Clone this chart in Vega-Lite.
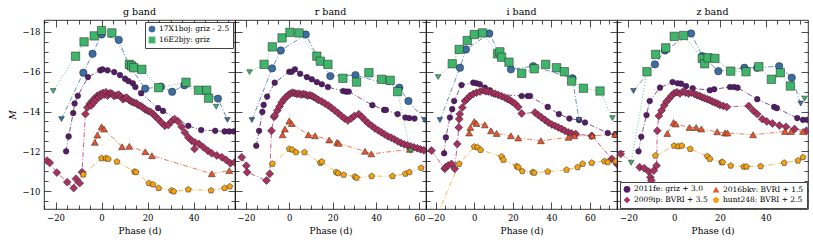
{
"$schema": "https://vega.github.io/schema/vega-lite/v6.json",
"padding": {"left": 7, "top": 6, "right": 3, "bottom": 3},
"spacing": 0,
"bounds": "flush",
"resolve": {"scale": {"color": "independent", "shape": "independent", "size": "independent", "stroke": "independent", "fill": "independent", "x": "independent", "y": "independent"}},
"datasets": {
"names": [
{"s":"17X1boj","n":"17X1boj: griz - 2.5"},{"s":"16E2bjy","n":"16E2bjy: griz"},{"s":"2011fe","n":"2011fe: griz + 3.0"},{"s":"2009ip","n":"2009ip: BVRI + 3.5"},{"s":"2016bkv","n":"2016bkv: BVRI + 1.5"},{"s":"hunt248","n":"hunt248: BVRI + 2.5"}
],
"g": [
{"s":"17X1boj","x":-17.4,"y":-13.62,"l":1},{"s":"17X1boj","x":-7.9,"y":-15.95},{"s":"17X1boj","x":-3.9,"y":-16.9},{"s":"17X1boj","x":0,"y":-17.87},{"s":"17X1boj","x":7.5,"y":-17.6},{"s":"17X1boj","x":12,"y":-16.3},{"s":"17X1boj","x":19,"y":-15.15},{"s":"17X1boj","x":25.8,"y":-15.25},{"s":"17X1boj","x":30.7,"y":-14.99},{"s":"17X1boj","x":36,"y":-15.32},{"s":"17X1boj","x":50.6,"y":-14.65},{"s":"17X1boj","x":54.7,"y":-13.58,"l":1},
{"s":"16E2bjy","x":-21,"y":-15.03,"l":1},{"s":"16E2bjy","x":-11.3,"y":-16.78},{"s":"16E2bjy","x":-7.6,"y":-17.5},{"s":"16E2bjy","x":-3.2,"y":-17.8},{"s":"16E2bjy","x":0,"y":-18.07},{"s":"16E2bjy","x":4.5,"y":-17.95},{"s":"16E2bjy","x":12.1,"y":-16.37},{"s":"16E2bjy","x":13.1,"y":-16.29},{"s":"16E2bjy","x":14,"y":-16.2},{"s":"16E2bjy","x":17.5,"y":-16.12},{"s":"16E2bjy","x":24.8,"y":-15.2},{"s":"16E2bjy","x":36.7,"y":-15.47},{"s":"16E2bjy","x":42.1,"y":-15.07},{"s":"16E2bjy","x":45.7,"y":-15.07},{"s":"16E2bjy","x":46.5,"y":-14.67},{"s":"16E2bjy","x":49.8,"y":-14.24,"l":1},
{"s":"2011fe","x":-15.4,"y":-12.0},{"s":"2011fe","x":-14.3,"y":-12.75},{"s":"2011fe","x":-12.3,"y":-13.92},{"s":"2011fe","x":-11.7,"y":-14.4},{"s":"2011fe","x":-10.3,"y":-14.79},{"s":"2011fe","x":-5.9,"y":-15.73},{"s":"2011fe","x":-0.6,"y":-16.07},{"s":"2011fe","x":0.4,"y":-16.12},{"s":"2011fe","x":2.6,"y":-16.07},{"s":"2011fe","x":5.5,"y":-15.98},{"s":"2011fe","x":8,"y":-15.83},{"s":"2011fe","x":10.2,"y":-15.65},{"s":"2011fe","x":11.7,"y":-15.53},{"s":"2011fe","x":13.6,"y":-15.42},{"s":"2011fe","x":14.7,"y":-15.23},{"s":"2011fe","x":17.2,"y":-14.92},{"s":"2011fe","x":24.6,"y":-14.17},{"s":"2011fe","x":26.7,"y":-14.03},{"s":"2011fe","x":37.7,"y":-13.28},{"s":"2011fe","x":43.3,"y":-13.07},{"s":"2011fe","x":49.4,"y":-13.03},{"s":"2011fe","x":53.5,"y":-13.0},{"s":"2011fe","x":55.5,"y":-13.0},{"s":"2011fe","x":57.5,"y":-13.0},
{"s":"2009ip","x":-23.7,"y":-11.53},{"s":"2009ip","x":-22.5,"y":-11.42},{"s":"2009ip","x":-19.4,"y":-10.93},{"s":"2009ip","x":-14.9,"y":-10.45},{"s":"2009ip","x":-12.1,"y":-10.15},{"s":"2009ip","x":-11.1,"y":-10.62},{"s":"2009ip","x":-9.5,"y":-10.4},{"s":"2009ip","x":-8.5,"y":-10.95},{"s":"2009ip","x":-7.0,"y":-13.87},{"s":"2009ip","x":-6.2,"y":-14.2},{"s":"2009ip","x":-5,"y":-14.4},{"s":"2009ip","x":-4.5,"y":-14.3},{"s":"2009ip","x":-3.9,"y":-14.54},{"s":"2009ip","x":-3.4,"y":-14.45},{"s":"2009ip","x":-2.9,"y":-14.67},{"s":"2009ip","x":-2.3,"y":-14.6},{"s":"2009ip","x":-1.8,"y":-14.79},{"s":"2009ip","x":-1.2,"y":-14.72},{"s":"2009ip","x":-0.6,"y":-14.87},{"s":"2009ip","x":0,"y":-14.8},{"s":"2009ip","x":0.6,"y":-14.93},{"s":"2009ip","x":1.2,"y":-14.85},{"s":"2009ip","x":1.9,"y":-14.97},{"s":"2009ip","x":2.6,"y":-14.8},{"s":"2009ip","x":3.3,"y":-14.9},{"s":"2009ip","x":4,"y":-14.92},{"s":"2009ip","x":4.8,"y":-14.87},{"s":"2009ip","x":5.5,"y":-14.78},{"s":"2009ip","x":6.7,"y":-14.82},{"s":"2009ip","x":7.5,"y":-14.85},{"s":"2009ip","x":8.5,"y":-14.74},{"s":"2009ip","x":9.3,"y":-14.62},{"s":"2009ip","x":10.2,"y":-14.67},{"s":"2009ip","x":11,"y":-14.7},{"s":"2009ip","x":12.1,"y":-14.57},{"s":"2009ip","x":13,"y":-14.5},{"s":"2009ip","x":14,"y":-14.45},{"s":"2009ip","x":15,"y":-14.42},{"s":"2009ip","x":15.8,"y":-14.34},{"s":"2009ip","x":17,"y":-14.28},{"s":"2009ip","x":18,"y":-14.2},{"s":"2009ip","x":19,"y":-14.1},{"s":"2009ip","x":20.2,"y":-14.03},{"s":"2009ip","x":21.3,"y":-13.98},{"s":"2009ip","x":22.4,"y":-13.87},{"s":"2009ip","x":23.5,"y":-13.75},{"s":"2009ip","x":24.6,"y":-13.62},{"s":"2009ip","x":26,"y":-13.45},{"s":"2009ip","x":27.5,"y":-13.28},{"s":"2009ip","x":29,"y":-13.32},{"s":"2009ip","x":30.4,"y":-13.5},{"s":"2009ip","x":31.8,"y":-13.62},{"s":"2009ip","x":33.3,"y":-13.5},{"s":"2009ip","x":34.8,"y":-13.23},{"s":"2009ip","x":36.2,"y":-12.95},{"s":"2009ip","x":37.7,"y":-12.7},{"s":"2009ip","x":39.2,"y":-12.53},{"s":"2009ip","x":40.4,"y":-12.12},{"s":"2009ip","x":40.6,"y":-12.45},{"s":"2009ip","x":42.4,"y":-12.37},{"s":"2009ip","x":44.3,"y":-12.2},{"s":"2009ip","x":46.2,"y":-12.03},{"s":"2009ip","x":47.9,"y":-11.9},{"s":"2009ip","x":50.1,"y":-11.79},{"s":"2009ip","x":52.3,"y":-11.7},{"s":"2009ip","x":54.1,"y":-11.57},{"s":"2009ip","x":56,"y":-11.4},{"s":"2009ip","x":57.9,"y":-11.45},{"s":"2009ip","x":61,"y":-11.6},
{"s":"2016bkv","x":-2.9,"y":-12.45},{"s":"2016bkv","x":-1.8,"y":-12.82},{"s":"2016bkv","x":0,"y":-13.23},{"s":"2016bkv","x":1.1,"y":-13.12},{"s":"2016bkv","x":8.9,"y":-12.23},{"s":"2016bkv","x":12.1,"y":-12.25},{"s":"2016bkv","x":19,"y":-11.98},{"s":"2016bkv","x":21.9,"y":-11.78},{"s":"2016bkv","x":47.9,"y":-10.87},{"s":"2016bkv","x":55.5,"y":-11.03},
{"s":"hunt248","x":-7.9,"y":-10.83},{"s":"hunt248","x":0,"y":-11.65},{"s":"hunt248","x":1.9,"y":-11.65},{"s":"hunt248","x":2.9,"y":-11.62},{"s":"hunt248","x":6.7,"y":-11.48},{"s":"hunt248","x":14.3,"y":-10.98},{"s":"hunt248","x":15,"y":-10.95},{"s":"hunt248","x":20.6,"y":-10.4},{"s":"hunt248","x":22.4,"y":-10.33},{"s":"hunt248","x":24.8,"y":-10.15},{"s":"hunt248","x":30.4,"y":-10.03},{"s":"hunt248","x":31.4,"y":-9.98},{"s":"hunt248","x":37.7,"y":-10.08},{"s":"hunt248","x":47.6,"y":-10.03},{"s":"hunt248","x":53.5,"y":-10.15},{"s":"hunt248","x":55.7,"y":-10.23},{"s":"hunt248","x":61,"y":-10.4}
],
"r": [
{"s":"17X1boj","x":-17.2,"y":-13.57,"l":1},{"s":"17X1boj","x":-7.9,"y":-16.17},{"s":"17X1boj","x":-3.9,"y":-17.07},{"s":"17X1boj","x":7.6,"y":-17.87},{"s":"17X1boj","x":12.7,"y":-16.8},{"s":"17X1boj","x":18.9,"y":-15.78},{"s":"17X1boj","x":30.5,"y":-15.83},{"s":"17X1boj","x":50.7,"y":-15.2},{"s":"17X1boj","x":54.9,"y":-14.53},{"s":"17X1boj","x":62.3,"y":-13.57,"l":1},
{"s":"16E2bjy","x":-18.3,"y":-15.98,"l":1},{"s":"16E2bjy","x":-11.6,"y":-16.37},{"s":"16E2bjy","x":-7.8,"y":-17.25},{"s":"16E2bjy","x":-3.3,"y":-17.7},{"s":"16E2bjy","x":0.3,"y":-17.98},{"s":"16E2bjy","x":4.5,"y":-17.95},{"s":"16E2bjy","x":12.7,"y":-16.78},{"s":"16E2bjy","x":14.3,"y":-16.53},{"s":"16E2bjy","x":17.8,"y":-16.37},{"s":"16E2bjy","x":24.7,"y":-15.67},{"s":"16E2bjy","x":31,"y":-15.48},{"s":"16E2bjy","x":36.7,"y":-15.95},{"s":"16E2bjy","x":42.5,"y":-15.62},{"s":"16E2bjy","x":46.5,"y":-15.57},{"s":"16E2bjy","x":49.9,"y":-15.0},{"s":"16E2bjy","x":55.8,"y":-12.03,"l":1},
{"s":"2011fe","x":-15.2,"y":-12.28},{"s":"2011fe","x":-13.9,"y":-13.03},{"s":"2011fe","x":-12.4,"y":-13.98},{"s":"2011fe","x":-11.8,"y":-14.33},{"s":"2011fe","x":-10.2,"y":-14.75},{"s":"2011fe","x":-6.7,"y":-15.45},{"s":"2011fe","x":0,"y":-16.0},{"s":"2011fe","x":1.1,"y":-16.0},{"s":"2011fe","x":2.6,"y":-16.12},{"s":"2011fe","x":5,"y":-15.9},{"s":"2011fe","x":8.1,"y":-15.73},{"s":"2011fe","x":10.4,"y":-15.62},{"s":"2011fe","x":12.7,"y":-15.48},{"s":"2011fe","x":15,"y":-15.37},{"s":"2011fe","x":17.8,"y":-15.23},{"s":"2011fe","x":24.8,"y":-15.03},{"s":"2011fe","x":26.2,"y":-15.0},{"s":"2011fe","x":27.4,"y":-15.0},{"s":"2011fe","x":38.3,"y":-14.32},{"s":"2011fe","x":43.7,"y":-14.08},{"s":"2011fe","x":44.5,"y":-14.08},{"s":"2011fe","x":49.9,"y":-13.87},{"s":"2011fe","x":53.5,"y":-13.7},{"s":"2011fe","x":55.3,"y":-13.67},{"s":"2011fe","x":57.7,"y":-13.65},
{"s":"2009ip","x":-21.9,"y":-11.7},{"s":"2009ip","x":-19.8,"y":-11.28},{"s":"2009ip","x":-19.4,"y":-10.95},{"s":"2009ip","x":-10.5,"y":-10.53},{"s":"2009ip","x":-9,"y":-10.87},{"s":"2009ip","x":-8.2,"y":-13.03},{"s":"2009ip","x":-7,"y":-13.73},{"s":"2009ip","x":-6.7,"y":-13.8},{"s":"2009ip","x":-5.5,"y":-14.05},{"s":"2009ip","x":-4.5,"y":-14.25},{"s":"2009ip","x":-3.5,"y":-14.45},{"s":"2009ip","x":-2.5,"y":-14.6},{"s":"2009ip","x":-1.5,"y":-14.72},{"s":"2009ip","x":-0.5,"y":-14.82},{"s":"2009ip","x":0.5,"y":-14.9},{"s":"2009ip","x":1.5,"y":-14.95},{"s":"2009ip","x":2.5,"y":-14.92},{"s":"2009ip","x":3.5,"y":-14.88},{"s":"2009ip","x":4.5,"y":-14.9},{"s":"2009ip","x":5.5,"y":-14.85},{"s":"2009ip","x":6.5,"y":-14.88},{"s":"2009ip","x":7.5,"y":-14.85},{"s":"2009ip","x":8.5,"y":-14.8},{"s":"2009ip","x":9.5,"y":-14.82},{"s":"2009ip","x":10.5,"y":-14.78},{"s":"2009ip","x":11.5,"y":-14.72},{"s":"2009ip","x":12.5,"y":-14.65},{"s":"2009ip","x":13.5,"y":-14.58},{"s":"2009ip","x":15,"y":-14.5},{"s":"2009ip","x":16.5,"y":-14.4},{"s":"2009ip","x":18,"y":-14.3},{"s":"2009ip","x":19.5,"y":-14.18},{"s":"2009ip","x":21,"y":-14.05},{"s":"2009ip","x":22.5,"y":-13.92},{"s":"2009ip","x":24,"y":-13.78},{"s":"2009ip","x":25.5,"y":-13.65},{"s":"2009ip","x":27,"y":-13.55},{"s":"2009ip","x":28.5,"y":-13.65},{"s":"2009ip","x":30,"y":-13.78},{"s":"2009ip","x":32,"y":-13.87},{"s":"2009ip","x":33.5,"y":-13.72},{"s":"2009ip","x":35,"y":-13.55},{"s":"2009ip","x":36.5,"y":-13.4},{"s":"2009ip","x":38,"y":-13.28},{"s":"2009ip","x":39.5,"y":-13.15},{"s":"2009ip","x":41,"y":-13.05},{"s":"2009ip","x":42.5,"y":-12.95},{"s":"2009ip","x":44,"y":-12.85},{"s":"2009ip","x":45.5,"y":-12.75},{"s":"2009ip","x":47,"y":-12.68},{"s":"2009ip","x":48.5,"y":-12.6},{"s":"2009ip","x":50,"y":-12.5},{"s":"2009ip","x":51.5,"y":-12.42},{"s":"2009ip","x":53,"y":-12.35},{"s":"2009ip","x":54.5,"y":-12.3},{"s":"2009ip","x":56,"y":-12.25},{"s":"2009ip","x":57.5,"y":-12.2},{"s":"2009ip","x":59,"y":-12.15},{"s":"2009ip","x":60.5,"y":-12.1},{"s":"2009ip","x":62,"y":-12.05},{"s":"2009ip","x":64.5,"y":-12.1},
{"s":"2016bkv","x":-3.1,"y":-12.83},{"s":"2016bkv","x":-2,"y":-13.12},{"s":"2016bkv","x":0,"y":-13.53},{"s":"2016bkv","x":1.1,"y":-13.4},{"s":"2016bkv","x":8.8,"y":-12.83},{"s":"2016bkv","x":11.9,"y":-12.78},{"s":"2016bkv","x":18.4,"y":-12.57},{"s":"2016bkv","x":22,"y":-12.45},{"s":"2016bkv","x":22.8,"y":-12.4},{"s":"2016bkv","x":34.9,"y":-12.0},{"s":"2016bkv","x":37.8,"y":-11.87},{"s":"2016bkv","x":55.5,"y":-12.1},
{"s":"hunt248","x":-7.8,"y":-11.37},{"s":"hunt248","x":0,"y":-12.12},{"s":"hunt248","x":1.4,"y":-12.08},{"s":"hunt248","x":3.1,"y":-11.95},{"s":"hunt248","x":7,"y":-11.95},{"s":"hunt248","x":14.3,"y":-11.42},{"s":"hunt248","x":15,"y":-11.48},{"s":"hunt248","x":21.6,"y":-10.95},{"s":"hunt248","x":22.5,"y":-10.9},{"s":"hunt248","x":25.1,"y":-10.82},{"s":"hunt248","x":30.2,"y":-10.73},{"s":"hunt248","x":31,"y":-10.67},{"s":"hunt248","x":38,"y":-10.75},{"s":"hunt248","x":47.6,"y":-10.75},{"s":"hunt248","x":53.5,"y":-10.87},{"s":"hunt248","x":55.3,"y":-10.95},{"s":"hunt248","x":60.8,"y":-11.17}
],
"i": [
{"s":"17X1boj","x":-17.8,"y":-13.57,"l":1},{"s":"17X1boj","x":-7.4,"y":-16.2},{"s":"17X1boj","x":-4.3,"y":-17.12},{"s":"17X1boj","x":7.8,"y":-17.92},{"s":"17X1boj","x":13.8,"y":-16.78},{"s":"17X1boj","x":19,"y":-16.12},{"s":"17X1boj","x":30.6,"y":-16.28},{"s":"17X1boj","x":50.9,"y":-15.67},{"s":"17X1boj","x":54.3,"y":-13.58,"l":1},
{"s":"16E2bjy","x":-18.7,"y":-15.73,"l":1},{"s":"16E2bjy","x":-11.4,"y":-16.4},{"s":"16E2bjy","x":-7.8,"y":-17.12},{"s":"16E2bjy","x":-3.6,"y":-17.57},{"s":"16E2bjy","x":0,"y":-17.87},{"s":"16E2bjy","x":4.3,"y":-17.95},{"s":"16E2bjy","x":12.1,"y":-16.9},{"s":"16E2bjy","x":13.3,"y":-17.0},{"s":"16E2bjy","x":14.2,"y":-16.73},{"s":"16E2bjy","x":18,"y":-16.48},{"s":"16E2bjy","x":24.6,"y":-15.92},{"s":"16E2bjy","x":31.1,"y":-16.15},{"s":"16E2bjy","x":37,"y":-16.37},{"s":"16E2bjy","x":42.7,"y":-16.2},{"s":"16E2bjy","x":46.7,"y":-16.0},{"s":"16E2bjy","x":50.5,"y":-15.53},{"s":"16E2bjy","x":56.6,"y":-15.17},{"s":"16E2bjy","x":65.2,"y":-15.03},{"s":"16E2bjy","x":71.6,"y":-13.67,"l":1},
{"s":"2011fe","x":-15.6,"y":-11.9},{"s":"2011fe","x":-14.7,"y":-12.7},{"s":"2011fe","x":-12.6,"y":-13.7},{"s":"2011fe","x":-11.4,"y":-14.12},{"s":"2011fe","x":-10.4,"y":-14.53},{"s":"2011fe","x":-6.6,"y":-15.33},{"s":"2011fe","x":-0.5,"y":-15.45},{"s":"2011fe","x":1.2,"y":-15.42},{"s":"2011fe","x":2.9,"y":-15.37},{"s":"2011fe","x":5.5,"y":-15.2},{"s":"2011fe","x":8.1,"y":-15.07},{"s":"2011fe","x":10.7,"y":-14.87},{"s":"2011fe","x":24.6,"y":-14.78},{"s":"2011fe","x":27.7,"y":-14.78},{"s":"2011fe","x":28.9,"y":-14.78},{"s":"2011fe","x":38.1,"y":-14.23},{"s":"2011fe","x":43.9,"y":-13.87},{"s":"2011fe","x":49.3,"y":-13.65},{"s":"2011fe","x":54.3,"y":-13.57},{"s":"2011fe","x":57.4,"y":-13.45},{"s":"2011fe","x":69.2,"y":-12.92},{"s":"2011fe","x":73,"y":-12.83},
{"s":"2009ip","x":-22.2,"y":-12.04},{"s":"2009ip","x":-15.3,"y":-11.12},{"s":"2009ip","x":-14.8,"y":-11.2},{"s":"2009ip","x":-13.5,"y":-11.29},{"s":"2009ip","x":-11.8,"y":-11.37},{"s":"2009ip","x":-10.1,"y":-11.12},{"s":"2009ip","x":-8.8,"y":-12.37},{"s":"2009ip","x":-8,"y":-13.2},{"s":"2009ip","x":-7.8,"y":-13.62},{"s":"2009ip","x":-7.5,"y":-13.87},{"s":"2009ip","x":-6.2,"y":-14.2},{"s":"2009ip","x":-4.8,"y":-14.53},{"s":"2009ip","x":-3.5,"y":-14.65},{"s":"2009ip","x":-2.2,"y":-14.78},{"s":"2009ip","x":-0.5,"y":-14.88},{"s":"2009ip","x":1.2,"y":-14.95},{"s":"2009ip","x":3,"y":-15.0},{"s":"2009ip","x":4.7,"y":-15.07},{"s":"2009ip","x":6,"y":-15.02},{"s":"2009ip","x":7.3,"y":-15.0},{"s":"2009ip","x":9,"y":-14.95},{"s":"2009ip","x":10.8,"y":-14.9},{"s":"2009ip","x":12.5,"y":-14.83},{"s":"2009ip","x":14.2,"y":-14.77},{"s":"2009ip","x":15.9,"y":-14.7},{"s":"2009ip","x":17.2,"y":-14.63},{"s":"2009ip","x":18.5,"y":-14.57},{"s":"2009ip","x":19.8,"y":-14.48},{"s":"2009ip","x":21.1,"y":-14.4},{"s":"2009ip","x":22.8,"y":-14.23},{"s":"2009ip","x":24.6,"y":-13.9},{"s":"2009ip","x":31.5,"y":-13.95},{"s":"2009ip","x":33.2,"y":-13.82},{"s":"2009ip","x":34.9,"y":-13.7},{"s":"2009ip","x":36.7,"y":-13.57},{"s":"2009ip","x":38.4,"y":-13.45},{"s":"2009ip","x":40.2,"y":-13.35},{"s":"2009ip","x":41.9,"y":-13.28},{"s":"2009ip","x":43.6,"y":-13.2},{"s":"2009ip","x":45.3,"y":-13.12},{"s":"2009ip","x":47,"y":-13.03},{"s":"2009ip","x":48.8,"y":-12.95},{"s":"2009ip","x":50.5,"y":-12.9},{"s":"2009ip","x":52.6,"y":-12.87},{"s":"2009ip","x":60.9,"y":-12.78},{"s":"2009ip","x":71.3,"y":-11.62},{"s":"2009ip","x":73.9,"y":-11.37},
{"s":"2016bkv","x":-2.6,"y":-12.92},{"s":"2016bkv","x":-2.0,"y":-13.2},{"s":"2016bkv","x":0,"y":-13.5},{"s":"2016bkv","x":1.2,"y":-13.4},{"s":"2016bkv","x":5.5,"y":-13.33},{"s":"2016bkv","x":8.7,"y":-13.03},{"s":"2016bkv","x":11.6,"y":-12.9},{"s":"2016bkv","x":19,"y":-12.78},{"s":"2016bkv","x":22.8,"y":-12.67},{"s":"2016bkv","x":34.6,"y":-12.53},{"s":"2016bkv","x":48.8,"y":-12.7},{"s":"2016bkv","x":51.9,"y":-12.78},{"s":"2016bkv","x":61.2,"y":-12.78},{"s":"2016bkv","x":73,"y":-12.85},
{"s":"hunt248","x":-21,"y":-8.4},{"s":"hunt248","x":-7.8,"y":-11.37},{"s":"hunt248","x":0,"y":-12.23},{"s":"hunt248","x":1.7,"y":-12.2},{"s":"hunt248","x":3.3,"y":-12.07},{"s":"hunt248","x":14.2,"y":-11.73},{"s":"hunt248","x":15.1,"y":-11.57},{"s":"hunt248","x":22,"y":-11.25},{"s":"hunt248","x":22.8,"y":-11.2},{"s":"hunt248","x":24.9,"y":-11.0},{"s":"hunt248","x":30.3,"y":-10.95},{"s":"hunt248","x":31.1,"y":-10.92},{"s":"hunt248","x":38.1,"y":-10.98},{"s":"hunt248","x":47.9,"y":-11.07},{"s":"hunt248","x":53.6,"y":-11.2},{"s":"hunt248","x":56.2,"y":-11.37},{"s":"hunt248","x":60.9,"y":-11.42},{"s":"hunt248","x":67.5,"y":-11.5},{"s":"hunt248","x":69.2,"y":-11.45},{"s":"hunt248","x":73.4,"y":-11.5}
],
"z": [
{"s":"17X1boj","x":-17.8,"y":-15.03,"l":1},{"s":"17X1boj","x":-8.4,"y":-16.37},{"s":"17X1boj","x":-4,"y":-17.07},{"s":"17X1boj","x":7.4,"y":-17.92},{"s":"17X1boj","x":12.3,"y":-16.78},{"s":"17X1boj","x":19.3,"y":-16.03},{"s":"17X1boj","x":30.7,"y":-16.2},{"s":"17X1boj","x":36.3,"y":-16.2},{"s":"17X1boj","x":45.9,"y":-16.28},{"s":"17X1boj","x":51.4,"y":-15.7},{"s":"17X1boj","x":55.3,"y":-14.4,"l":1},
{"s":"16E2bjy","x":-18.8,"y":-11.42,"l":1},{"s":"16E2bjy","x":-11.9,"y":-16.0},{"s":"16E2bjy","x":-8.1,"y":-16.87},{"s":"16E2bjy","x":-3.7,"y":-17.2},{"s":"16E2bjy","x":0,"y":-17.78},{"s":"16E2bjy","x":4.1,"y":-17.82},{"s":"16E2bjy","x":12.3,"y":-16.67},{"s":"16E2bjy","x":13.3,"y":-16.4},{"s":"16E2bjy","x":14.8,"y":-16.7},{"s":"16E2bjy","x":17.8,"y":-16.67},{"s":"16E2bjy","x":24.7,"y":-16.03},{"s":"16E2bjy","x":31.4,"y":-16.0},{"s":"16E2bjy","x":37,"y":-16.25},{"s":"16E2bjy","x":42.5,"y":-15.62},{"s":"16E2bjy","x":46.4,"y":-15.95},{"s":"16E2bjy","x":50.8,"y":-15.28},{"s":"16E2bjy","x":57,"y":-14.65,"l":1},
{"s":"2011fe","x":-15.6,"y":-12.0},{"s":"2011fe","x":-14.4,"y":-12.73},{"s":"2011fe","x":-12.1,"y":-13.82},{"s":"2011fe","x":-10.7,"y":-14.53},{"s":"2011fe","x":-6.2,"y":-15.2},{"s":"2011fe","x":-0.7,"y":-15.48},{"s":"2011fe","x":1.5,"y":-15.42},{"s":"2011fe","x":3,"y":-15.4},{"s":"2011fe","x":5.2,"y":-15.28},{"s":"2011fe","x":8.1,"y":-15.17},{"s":"2011fe","x":15.6,"y":-15.07},{"s":"2011fe","x":17.5,"y":-15.12},{"s":"2011fe","x":24.4,"y":-15.23},{"s":"2011fe","x":26.2,"y":-15.23},{"s":"2011fe","x":27.7,"y":-15.2},{"s":"2011fe","x":36.3,"y":-14.62},{"s":"2011fe","x":43.7,"y":-14.23},{"s":"2011fe","x":44.9,"y":-14.17},{"s":"2011fe","x":53.8,"y":-13.67},{"s":"2011fe","x":56.3,"y":-13.58},{"s":"2011fe","x":58.2,"y":-13.58},
{"s":"2009ip","x":-23.4,"y":-11.87},{"s":"2009ip","x":-15.1,"y":-11.2},{"s":"2009ip","x":-13.1,"y":-11.15},{"s":"2009ip","x":-11.1,"y":-10.98},{"s":"2009ip","x":-10.4,"y":-10.7},{"s":"2009ip","x":-10,"y":-10.53},{"s":"2009ip","x":-8.9,"y":-11.03},{"s":"2009ip","x":-7.7,"y":-11.28},{"s":"2009ip","x":-7.4,"y":-13.03},{"s":"2009ip","x":-6.7,"y":-13.78},{"s":"2009ip","x":-5.5,"y":-14.05},{"s":"2009ip","x":-4.4,"y":-14.3},{"s":"2009ip","x":-3.3,"y":-14.5},{"s":"2009ip","x":-2.2,"y":-14.65},{"s":"2009ip","x":-1.1,"y":-14.8},{"s":"2009ip","x":0,"y":-14.92},{"s":"2009ip","x":1.2,"y":-14.97},{"s":"2009ip","x":2.5,"y":-14.9},{"s":"2009ip","x":3.8,"y":-15.0},{"s":"2009ip","x":5,"y":-14.95},{"s":"2009ip","x":6.3,"y":-14.9},{"s":"2009ip","x":7.6,"y":-14.95},{"s":"2009ip","x":8.9,"y":-14.88},{"s":"2009ip","x":10,"y":-14.82},{"s":"2009ip","x":11.1,"y":-14.78},{"s":"2009ip","x":12.2,"y":-14.72},{"s":"2009ip","x":13.3,"y":-14.67},{"s":"2009ip","x":14.5,"y":-14.62},{"s":"2009ip","x":15.6,"y":-14.57},{"s":"2009ip","x":16.7,"y":-14.5},{"s":"2009ip","x":17.8,"y":-14.45},{"s":"2009ip","x":18.9,"y":-14.4},{"s":"2009ip","x":20,"y":-14.33},{"s":"2009ip","x":21.5,"y":-14.28},{"s":"2009ip","x":23,"y":-14.23},{"s":"2009ip","x":32.6,"y":-14.28},{"s":"2009ip","x":34.5,"y":-14.05},{"s":"2009ip","x":36.3,"y":-13.87},{"s":"2009ip","x":38.5,"y":-13.62},{"s":"2009ip","x":40.5,"y":-13.5},{"s":"2009ip","x":43,"y":-13.4},{"s":"2009ip","x":46,"y":-13.3},{"s":"2009ip","x":48.9,"y":-13.23},{"s":"2009ip","x":52.6,"y":-13.12},{"s":"2009ip","x":57.8,"y":-13.03},
{"s":"2016bkv","x":-3,"y":-12.9},{"s":"2016bkv","x":-0.3,"y":-13.45},{"s":"2016bkv","x":0.7,"y":-13.37},{"s":"2016bkv","x":6.7,"y":-13.2},{"s":"2016bkv","x":9.6,"y":-13.2},{"s":"2016bkv","x":11.9,"y":-13.12},{"s":"2016bkv","x":18.8,"y":-12.98},{"s":"2016bkv","x":22.2,"y":-12.92},{"s":"2016bkv","x":23.3,"y":-12.92},{"s":"2016bkv","x":34.5,"y":-12.83},{"s":"2016bkv","x":48.4,"y":-13.0},{"s":"2016bkv","x":51.1,"y":-13.0},{"s":"2016bkv","x":56.3,"y":-13.0},
{"s":"hunt248","x":-8.2,"y":-11.78},{"s":"hunt248","x":0,"y":-12.28},{"s":"hunt248","x":1.8,"y":-12.25},{"s":"hunt248","x":3.3,"y":-12.28},{"s":"hunt248","x":7,"y":-12.12},{"s":"hunt248","x":14.5,"y":-11.75},{"s":"hunt248","x":15.6,"y":-11.62},{"s":"hunt248","x":20.7,"y":-11.45},{"s":"hunt248","x":21.2,"y":-11.45},{"s":"hunt248","x":24.7,"y":-11.28},{"s":"hunt248","x":30.4,"y":-11.23},{"s":"hunt248","x":31.6,"y":-11.23},{"s":"hunt248","x":37.8,"y":-11.25},{"s":"hunt248","x":48.1,"y":-11.42},{"s":"hunt248","x":54.1,"y":-11.53},{"s":"hunt248","x":56.3,"y":-11.7}
]
},
"hconcat": [
{
"width": 191, "height": 189,
"title": "g band",
"data": {"name": "g"},
"transform": [{"lookup": "s", "from": {"data": {"name": "names"}, "key": "s", "fields": ["n"]}}],
"resolve": {"axis": {"x": "independent", "y": "independent"}},
"layer": [
{"transform": [{"filter": "datum.s != '16E2bjy'"}],
"mark": {"type": "line", "clip": true, "strokeWidth": 0.9, "opacity": 0.85, "strokeDash": [5,2,1,2]},
"encoding": {
"x": {"field": "x", "type": "quantitative", "scale": {"domain": [-25, 58], "nice": false, "zero": false}, "axis": {"orient": "bottom", "values": [-20,0,20,40], "tickSize": -7, "labelPadding": 11, "title": "Phase (d)"}},
"y": {"field": "y", "type": "quantitative", "scale": {"domain": [-18.6, -9.1], "reverse": true, "nice": false, "zero": false}, "axis": {"orient": "left", "values": [-18,-16,-14,-12,-10], "tickSize": -7, "labelPadding": 11, "title": "M", "titleFontStyle": "italic"}},
"stroke": {"field": "n", "type": "nominal", "scale": {"domain": ["hunt248: BVRI + 2.5","2016bkv: BVRI + 1.5","2009ip: BVRI + 3.5","2011fe: griz + 3.0","16E2bjy: griz","17X1boj: griz - 2.5"], "range": ["#f5a20f","#e8552a","#a8315f","#571b6b","#3fb56b","#3a6ea5"]}, "legend": null}
}},
{"transform": [{"filter": "datum.s == '16E2bjy'"}],
"mark": {"type": "line", "clip": true, "strokeWidth": 0.9, "opacity": 0.85, "strokeDash": [1,2]},
"encoding": {
"x": {"field": "x", "type": "quantitative", "scale": {"domain": [-25, 58], "nice": false, "zero": false}, "axis": {"orient": "top", "values": [-20,0,20,40], "tickSize": -7, "labels": false, "title": null}},
"y": {"field": "y", "type": "quantitative", "scale": {"domain": [-18.6, -9.1], "reverse": true, "nice": false, "zero": false}, "axis": {"orient": "right", "values": [-18,-16,-14,-12,-10], "tickSize": -7, "labels": false, "title": null}},
"stroke": {"field": "n", "type": "nominal", "scale": {"domain": ["hunt248: BVRI + 2.5","2016bkv: BVRI + 1.5","2009ip: BVRI + 3.5","2011fe: griz + 3.0","16E2bjy: griz","17X1boj: griz - 2.5"], "range": ["#f5a20f","#e8552a","#a8315f","#571b6b","#3fb56b","#3a6ea5"]}, "legend": null}
}},
{"transform": [{"filter": "!datum.l"}],
"mark": {"type": "point", "filled": true, "clip": true, "stroke": "#222", "strokeWidth": 0.5, "opacity": 1},
"encoding": {
"x": {"field": "x", "type": "quantitative", "scale": {"domain": [-25, 58], "nice": false, "zero": false}, "axis": {"orient": "bottom", "values": [-25,-15,-10,-5,5,10,15,25,30,35,45,50,55], "tickSize": -4, "labels": false, "title": null}},
"y": {"field": "y", "type": "quantitative", "scale": {"domain": [-18.6, -9.1], "reverse": true, "nice": false, "zero": false}, "axis": {"orient": "left", "values": [-18.5,-17.5,-17,-16.5,-15.5,-15,-14.5,-13.5,-13,-12.5,-11.5,-11,-10.5,-9.5], "tickSize": -4, "labels": false, "title": null}},
"color": {"field": "n", "type": "nominal", "scale": {"domain": ["17X1boj: griz - 2.5","16E2bjy: griz","2011fe: griz + 3.0","2009ip: BVRI + 3.5","2016bkv: BVRI + 1.5","hunt248: BVRI + 2.5"], "range": ["#3a6ea5","#3fb56b","#571b6b","#a8315f","#e8552a","#f5a20f"]}, "legend": {"orient": "top-right", "offset": 2, "values": ["17X1boj: griz - 2.5","16E2bjy: griz"], "title": null}},
"shape": {"field": "n", "type": "nominal", "scale": {"domain": ["17X1boj: griz - 2.5","16E2bjy: griz","2011fe: griz + 3.0","2009ip: BVRI + 3.5","2016bkv: BVRI + 1.5","hunt248: BVRI + 2.5"], "range": ["circle","square","circle","diamond","triangle-up","M0,-1L0.951,-0.309L0.588,0.809L-0.588,0.809L-0.951,-0.309Z"]}},
"size": {"field": "n", "type": "nominal", "scale": {"type": "point", "domain": ["2011fe: griz + 3.0","hunt248: BVRI + 2.5","2016bkv: BVRI + 1.5","17X1boj: griz - 2.5","2009ip: BVRI + 3.5","16E2bjy: griz"], "range": [32, 70], "padding": 0}, "legend": null}
}},
{"transform": [{"filter": "datum.l"}],
"mark": {"type": "point", "filled": true, "shape": "triangle-down", "size": 32, "clip": true, "stroke": "#222", "strokeWidth": 0.5, "opacity": 1},
"encoding": {
"x": {"field": "x", "type": "quantitative", "scale": {"domain": [-25, 58], "nice": false, "zero": false}, "axis": {"orient": "top", "values": [-25,-15,-10,-5,5,10,15,25,30,35,45,50,55], "tickSize": -4, "labels": false, "title": null}},
"y": {"field": "y", "type": "quantitative", "scale": {"domain": [-18.6, -9.1], "reverse": true, "nice": false, "zero": false}, "axis": {"orient": "right", "values": [-18.5,-17.5,-17,-16.5,-15.5,-15,-14.5,-13.5,-13,-12.5,-11.5,-11,-10.5,-9.5], "tickSize": -4, "labels": false, "title": null}},
"fill": {"field": "n", "type": "nominal", "scale": {"domain": ["hunt248: BVRI + 2.5","2016bkv: BVRI + 1.5","2009ip: BVRI + 3.5","2011fe: griz + 3.0","16E2bjy: griz","17X1boj: griz - 2.5"], "range": ["#f5a20f","#e8552a","#a8315f","#571b6b","#3fb56b","#3a6ea5"]}, "legend": null}
}}
]
},
{
"width": 191, "height": 189,
"title": "r band",
"data": {"name": "r"},
"transform": [{"lookup": "s", "from": {"data": {"name": "names"}, "key": "s", "fields": ["n"]}}],
"resolve": {"axis": {"x": "independent", "y": "independent"}},
"layer": [
{"transform": [{"filter": "datum.s != '16E2bjy'"}],
"mark": {"type": "line", "clip": true, "strokeWidth": 0.9, "opacity": 0.85, "strokeDash": [5,2,1,2]},
"encoding": {
"x": {"field": "x", "type": "quantitative", "scale": {"domain": [-25, 63], "nice": false, "zero": false}, "axis": {"orient": "bottom", "values": [-20,0,20,40,60], "tickSize": -7, "labelPadding": 11, "title": "Phase (d)"}},
"y": {"field": "y", "type": "quantitative", "scale": {"domain": [-18.6, -9.1], "reverse": true, "nice": false, "zero": false}, "axis": {"orient": "left", "values": [-18,-16,-14,-12,-10], "tickSize": -7, "labels": false, "title": null}},
"stroke": {"field": "n", "type": "nominal", "scale": {"domain": ["hunt248: BVRI + 2.5","2016bkv: BVRI + 1.5","2009ip: BVRI + 3.5","2011fe: griz + 3.0","16E2bjy: griz","17X1boj: griz - 2.5"], "range": ["#f5a20f","#e8552a","#a8315f","#571b6b","#3fb56b","#3a6ea5"]}, "legend": null}
}},
{"transform": [{"filter": "datum.s == '16E2bjy'"}],
"mark": {"type": "line", "clip": true, "strokeWidth": 0.9, "opacity": 0.85, "strokeDash": [1,2]},
"encoding": {
"x": {"field": "x", "type": "quantitative", "scale": {"domain": [-25, 63], "nice": false, "zero": false}, "axis": {"orient": "top", "values": [-20,0,20,40,60], "tickSize": -7, "labels": false, "title": null}},
"y": {"field": "y", "type": "quantitative", "scale": {"domain": [-18.6, -9.1], "reverse": true, "nice": false, "zero": false}, "axis": {"orient": "right", "values": [-18,-16,-14,-12,-10], "tickSize": -7, "labels": false, "title": null}},
"stroke": {"field": "n", "type": "nominal", "scale": {"domain": ["hunt248: BVRI + 2.5","2016bkv: BVRI + 1.5","2009ip: BVRI + 3.5","2011fe: griz + 3.0","16E2bjy: griz","17X1boj: griz - 2.5"], "range": ["#f5a20f","#e8552a","#a8315f","#571b6b","#3fb56b","#3a6ea5"]}, "legend": null}
}},
{"transform": [{"filter": "!datum.l"}],
"mark": {"type": "point", "filled": true, "clip": true, "stroke": "#222", "strokeWidth": 0.5, "opacity": 1},
"encoding": {
"x": {"field": "x", "type": "quantitative", "scale": {"domain": [-25, 63], "nice": false, "zero": false}, "axis": {"orient": "bottom", "values": [-25,-15,-10,-5,5,10,15,25,30,35,45,50,55], "tickSize": -4, "labels": false, "title": null}},
"y": {"field": "y", "type": "quantitative", "scale": {"domain": [-18.6, -9.1], "reverse": true, "nice": false, "zero": false}, "axis": {"orient": "left", "values": [-18.5,-17.5,-17,-16.5,-15.5,-15,-14.5,-13.5,-13,-12.5,-11.5,-11,-10.5,-9.5], "tickSize": -4, "labels": false, "title": null}},
"color": {"field": "n", "type": "nominal", "scale": {"domain": ["17X1boj: griz - 2.5","16E2bjy: griz","2011fe: griz + 3.0","2009ip: BVRI + 3.5","2016bkv: BVRI + 1.5","hunt248: BVRI + 2.5"], "range": ["#3a6ea5","#3fb56b","#571b6b","#a8315f","#e8552a","#f5a20f"]}, "legend": null},
"shape": {"field": "n", "type": "nominal", "scale": {"domain": ["17X1boj: griz - 2.5","16E2bjy: griz","2011fe: griz + 3.0","2009ip: BVRI + 3.5","2016bkv: BVRI + 1.5","hunt248: BVRI + 2.5"], "range": ["circle","square","circle","diamond","triangle-up","M0,-1L0.951,-0.309L0.588,0.809L-0.588,0.809L-0.951,-0.309Z"]}, "legend": null},
"size": {"field": "n", "type": "nominal", "scale": {"type": "point", "domain": ["2011fe: griz + 3.0","hunt248: BVRI + 2.5","2016bkv: BVRI + 1.5","17X1boj: griz - 2.5","2009ip: BVRI + 3.5","16E2bjy: griz"], "range": [32, 70], "padding": 0}, "legend": null}
}},
{"transform": [{"filter": "datum.l"}],
"mark": {"type": "point", "filled": true, "shape": "triangle-down", "size": 32, "clip": true, "stroke": "#222", "strokeWidth": 0.5, "opacity": 1},
"encoding": {
"x": {"field": "x", "type": "quantitative", "scale": {"domain": [-25, 63], "nice": false, "zero": false}, "axis": {"orient": "top", "values": [-25,-15,-10,-5,5,10,15,25,30,35,45,50,55], "tickSize": -4, "labels": false, "title": null}},
"y": {"field": "y", "type": "quantitative", "scale": {"domain": [-18.6, -9.1], "reverse": true, "nice": false, "zero": false}, "axis": {"orient": "right", "values": [-18.5,-17.5,-17,-16.5,-15.5,-15,-14.5,-13.5,-13,-12.5,-11.5,-11,-10.5,-9.5], "tickSize": -4, "labels": false, "title": null}},
"fill": {"field": "n", "type": "nominal", "scale": {"domain": ["hunt248: BVRI + 2.5","2016bkv: BVRI + 1.5","2009ip: BVRI + 3.5","2011fe: griz + 3.0","16E2bjy: griz","17X1boj: griz - 2.5"], "range": ["#f5a20f","#e8552a","#a8315f","#571b6b","#3fb56b","#3a6ea5"]}, "legend": null}
}}
]
},
{
"width": 191, "height": 189,
"title": "i band",
"data": {"name": "i"},
"transform": [{"lookup": "s", "from": {"data": {"name": "names"}, "key": "s", "fields": ["n"]}}],
"resolve": {"axis": {"x": "independent", "y": "independent"}},
"layer": [
{"transform": [{"filter": "datum.s != '16E2bjy'"}],
"mark": {"type": "line", "clip": true, "strokeWidth": 0.9, "opacity": 0.85, "strokeDash": [5,2,1,2]},
"encoding": {
"x": {"field": "x", "type": "quantitative", "scale": {"domain": [-25, 74], "nice": false, "zero": false}, "axis": {"orient": "bottom", "values": [-20,0,20,40,60], "tickSize": -7, "labelPadding": 11, "title": "Phase (d)"}},
"y": {"field": "y", "type": "quantitative", "scale": {"domain": [-18.6, -9.1], "reverse": true, "nice": false, "zero": false}, "axis": {"orient": "left", "values": [-18,-16,-14,-12,-10], "tickSize": -7, "labels": false, "title": null}},
"stroke": {"field": "n", "type": "nominal", "scale": {"domain": ["hunt248: BVRI + 2.5","2016bkv: BVRI + 1.5","2009ip: BVRI + 3.5","2011fe: griz + 3.0","16E2bjy: griz","17X1boj: griz - 2.5"], "range": ["#f5a20f","#e8552a","#a8315f","#571b6b","#3fb56b","#3a6ea5"]}, "legend": null}
}},
{"transform": [{"filter": "datum.s == '16E2bjy'"}],
"mark": {"type": "line", "clip": true, "strokeWidth": 0.9, "opacity": 0.85, "strokeDash": [1,2]},
"encoding": {
"x": {"field": "x", "type": "quantitative", "scale": {"domain": [-25, 74], "nice": false, "zero": false}, "axis": {"orient": "top", "values": [-20,0,20,40,60], "tickSize": -7, "labels": false, "title": null}},
"y": {"field": "y", "type": "quantitative", "scale": {"domain": [-18.6, -9.1], "reverse": true, "nice": false, "zero": false}, "axis": {"orient": "right", "values": [-18,-16,-14,-12,-10], "tickSize": -7, "labels": false, "title": null}},
"stroke": {"field": "n", "type": "nominal", "scale": {"domain": ["hunt248: BVRI + 2.5","2016bkv: BVRI + 1.5","2009ip: BVRI + 3.5","2011fe: griz + 3.0","16E2bjy: griz","17X1boj: griz - 2.5"], "range": ["#f5a20f","#e8552a","#a8315f","#571b6b","#3fb56b","#3a6ea5"]}, "legend": null}
}},
{"transform": [{"filter": "!datum.l"}],
"mark": {"type": "point", "filled": true, "clip": true, "stroke": "#222", "strokeWidth": 0.5, "opacity": 1},
"encoding": {
"x": {"field": "x", "type": "quantitative", "scale": {"domain": [-25, 74], "nice": false, "zero": false}, "axis": {"orient": "bottom", "values": [-25,-15,-10,-5,5,10,15,25,30,35,45,50,55,65,70], "tickSize": -4, "labels": false, "title": null}},
"y": {"field": "y", "type": "quantitative", "scale": {"domain": [-18.6, -9.1], "reverse": true, "nice": false, "zero": false}, "axis": {"orient": "left", "values": [-18.5,-17.5,-17,-16.5,-15.5,-15,-14.5,-13.5,-13,-12.5,-11.5,-11,-10.5,-9.5], "tickSize": -4, "labels": false, "title": null}},
"color": {"field": "n", "type": "nominal", "scale": {"domain": ["17X1boj: griz - 2.5","16E2bjy: griz","2011fe: griz + 3.0","2009ip: BVRI + 3.5","2016bkv: BVRI + 1.5","hunt248: BVRI + 2.5"], "range": ["#3a6ea5","#3fb56b","#571b6b","#a8315f","#e8552a","#f5a20f"]}, "legend": null},
"shape": {"field": "n", "type": "nominal", "scale": {"domain": ["17X1boj: griz - 2.5","16E2bjy: griz","2011fe: griz + 3.0","2009ip: BVRI + 3.5","2016bkv: BVRI + 1.5","hunt248: BVRI + 2.5"], "range": ["circle","square","circle","diamond","triangle-up","M0,-1L0.951,-0.309L0.588,0.809L-0.588,0.809L-0.951,-0.309Z"]}, "legend": null},
"size": {"field": "n", "type": "nominal", "scale": {"type": "point", "domain": ["2011fe: griz + 3.0","hunt248: BVRI + 2.5","2016bkv: BVRI + 1.5","17X1boj: griz - 2.5","2009ip: BVRI + 3.5","16E2bjy: griz"], "range": [32, 70], "padding": 0}, "legend": null}
}},
{"transform": [{"filter": "datum.l"}],
"mark": {"type": "point", "filled": true, "shape": "triangle-down", "size": 32, "clip": true, "stroke": "#222", "strokeWidth": 0.5, "opacity": 1},
"encoding": {
"x": {"field": "x", "type": "quantitative", "scale": {"domain": [-25, 74], "nice": false, "zero": false}, "axis": {"orient": "top", "values": [-25,-15,-10,-5,5,10,15,25,30,35,45,50,55,65,70], "tickSize": -4, "labels": false, "title": null}},
"y": {"field": "y", "type": "quantitative", "scale": {"domain": [-18.6, -9.1], "reverse": true, "nice": false, "zero": false}, "axis": {"orient": "right", "values": [-18.5,-17.5,-17,-16.5,-15.5,-15,-14.5,-13.5,-13,-12.5,-11.5,-11,-10.5,-9.5], "tickSize": -4, "labels": false, "title": null}},
"fill": {"field": "n", "type": "nominal", "scale": {"domain": ["hunt248: BVRI + 2.5","2016bkv: BVRI + 1.5","2009ip: BVRI + 3.5","2011fe: griz + 3.0","16E2bjy: griz","17X1boj: griz - 2.5"], "range": ["#f5a20f","#e8552a","#a8315f","#571b6b","#3fb56b","#3a6ea5"]}, "legend": null}
}}
]
},
{
"width": 191, "height": 189,
"title": "z band",
"data": {"name": "z"},
"transform": [{"lookup": "s", "from": {"data": {"name": "names"}, "key": "s", "fields": ["n"]}}],
"resolve": {"axis": {"x": "independent", "y": "independent"}},
"layer": [
{"transform": [{"filter": "datum.s != '16E2bjy'"}],
"mark": {"type": "line", "clip": true, "strokeWidth": 0.9, "opacity": 0.85, "strokeDash": [5,2,1,2]},
"encoding": {
"x": {"field": "x", "type": "quantitative", "scale": {"domain": [-25, 58.5], "nice": false, "zero": false}, "axis": {"orient": "bottom", "values": [-20,0,20,40], "tickSize": -7, "labelPadding": 11, "title": "Phase (d)"}},
"y": {"field": "y", "type": "quantitative", "scale": {"domain": [-18.6, -9.1], "reverse": true, "nice": false, "zero": false}, "axis": {"orient": "left", "values": [-18,-16,-14,-12,-10], "tickSize": -7, "labels": false, "title": null}},
"stroke": {"field": "n", "type": "nominal", "scale": {"domain": ["hunt248: BVRI + 2.5","2016bkv: BVRI + 1.5","2009ip: BVRI + 3.5","2011fe: griz + 3.0","16E2bjy: griz","17X1boj: griz - 2.5"], "range": ["#f5a20f","#e8552a","#a8315f","#571b6b","#3fb56b","#3a6ea5"]}, "legend": null}
}},
{"transform": [{"filter": "datum.s == '16E2bjy'"}],
"mark": {"type": "line", "clip": true, "strokeWidth": 0.9, "opacity": 0.85, "strokeDash": [1,2]},
"encoding": {
"x": {"field": "x", "type": "quantitative", "scale": {"domain": [-25, 58.5], "nice": false, "zero": false}, "axis": {"orient": "top", "values": [-20,0,20,40], "tickSize": -7, "labels": false, "title": null}},
"y": {"field": "y", "type": "quantitative", "scale": {"domain": [-18.6, -9.1], "reverse": true, "nice": false, "zero": false}, "axis": {"orient": "right", "values": [-18,-16,-14,-12,-10], "tickSize": -7, "labels": false, "title": null}},
"stroke": {"field": "n", "type": "nominal", "scale": {"domain": ["hunt248: BVRI + 2.5","2016bkv: BVRI + 1.5","2009ip: BVRI + 3.5","2011fe: griz + 3.0","16E2bjy: griz","17X1boj: griz - 2.5"], "range": ["#f5a20f","#e8552a","#a8315f","#571b6b","#3fb56b","#3a6ea5"]}, "legend": null}
}},
{"transform": [{"filter": "!datum.l"}],
"mark": {"type": "point", "filled": true, "clip": true, "stroke": "#222", "strokeWidth": 0.5, "opacity": 1},
"encoding": {
"x": {"field": "x", "type": "quantitative", "scale": {"domain": [-25, 58.5], "nice": false, "zero": false}, "axis": {"orient": "bottom", "values": [-25,-15,-10,-5,5,10,15,25,30,35,45,50,55], "tickSize": -4, "labels": false, "title": null}},
"y": {"field": "y", "type": "quantitative", "scale": {"domain": [-18.6, -9.1], "reverse": true, "nice": false, "zero": false}, "axis": {"orient": "left", "values": [-18.5,-17.5,-17,-16.5,-15.5,-15,-14.5,-13.5,-13,-12.5,-11.5,-11,-10.5,-9.5], "tickSize": -4, "labels": false, "title": null}},
"color": {"field": "n", "type": "nominal", "scale": {"domain": ["17X1boj: griz - 2.5","16E2bjy: griz","2011fe: griz + 3.0","2009ip: BVRI + 3.5","2016bkv: BVRI + 1.5","hunt248: BVRI + 2.5"], "range": ["#3a6ea5","#3fb56b","#571b6b","#a8315f","#e8552a","#f5a20f"]}, "legend": {"orient": "bottom-right", "offset": 1, "columns": 2, "columnPadding": 3, "values": ["2011fe: griz + 3.0","2009ip: BVRI + 3.5","2016bkv: BVRI + 1.5","hunt248: BVRI + 2.5"], "title": null}},
"shape": {"field": "n", "type": "nominal", "scale": {"domain": ["17X1boj: griz - 2.5","16E2bjy: griz","2011fe: griz + 3.0","2009ip: BVRI + 3.5","2016bkv: BVRI + 1.5","hunt248: BVRI + 2.5"], "range": ["circle","square","circle","diamond","triangle-up","M0,-1L0.951,-0.309L0.588,0.809L-0.588,0.809L-0.951,-0.309Z"]}},
"size": {"field": "n", "type": "nominal", "scale": {"type": "point", "domain": ["2011fe: griz + 3.0","hunt248: BVRI + 2.5","2016bkv: BVRI + 1.5","17X1boj: griz - 2.5","2009ip: BVRI + 3.5","16E2bjy: griz"], "range": [32, 70], "padding": 0}, "legend": null}
}},
{"transform": [{"filter": "datum.l"}],
"mark": {"type": "point", "filled": true, "shape": "triangle-down", "size": 32, "clip": true, "stroke": "#222", "strokeWidth": 0.5, "opacity": 1},
"encoding": {
"x": {"field": "x", "type": "quantitative", "scale": {"domain": [-25, 58.5], "nice": false, "zero": false}, "axis": {"orient": "top", "values": [-25,-15,-10,-5,5,10,15,25,30,35,45,50,55], "tickSize": -4, "labels": false, "title": null}},
"y": {"field": "y", "type": "quantitative", "scale": {"domain": [-18.6, -9.1], "reverse": true, "nice": false, "zero": false}, "axis": {"orient": "right", "values": [-18.5,-17.5,-17,-16.5,-15.5,-15,-14.5,-13.5,-13,-12.5,-11.5,-11,-10.5,-9.5], "tickSize": -4, "labels": false, "title": null}},
"fill": {"field": "n", "type": "nominal", "scale": {"domain": ["hunt248: BVRI + 2.5","2016bkv: BVRI + 1.5","2009ip: BVRI + 3.5","2011fe: griz + 3.0","16E2bjy: griz","17X1boj: griz - 2.5"], "range": ["#f5a20f","#e8552a","#a8315f","#571b6b","#3fb56b","#3a6ea5"]}, "legend": null}
}}
]
}
],
"config": {
"font": "DejaVu Serif",
"view": {"stroke": "black", "strokeWidth": 0.8},
"axis": {"labelFont": "DejaVu Serif", "labelFontSize": 8.5, "labelColor": "black", "titleFont": "DejaVu Serif", "titleFontSize": 9, "titleFontWeight": "normal", "titleColor": "black", "tickColor": "black", "tickWidth": 0.7, "titlePadding": 5, "domain": false, "grid": false, "labelFlush": false, "labelOverlap": false},
"title": {"font": "DejaVu Serif", "fontSize": 9.5, "fontWeight": "normal", "offset": 3, "color": "black"},
"legend": {"labelFont": "DejaVu Serif", "labelFontSize": 7.5, "labelColor": "black", "fillColor": "white", "strokeColor": "#444", "padding": 3, "cornerRadius": 0, "symbolSize": 45, "symbolStrokeColor": "#222", "symbolStrokeWidth": 0.5, "rowPadding": 1, "labelOffset": 3, "symbolOpacity": 1}
}
}
